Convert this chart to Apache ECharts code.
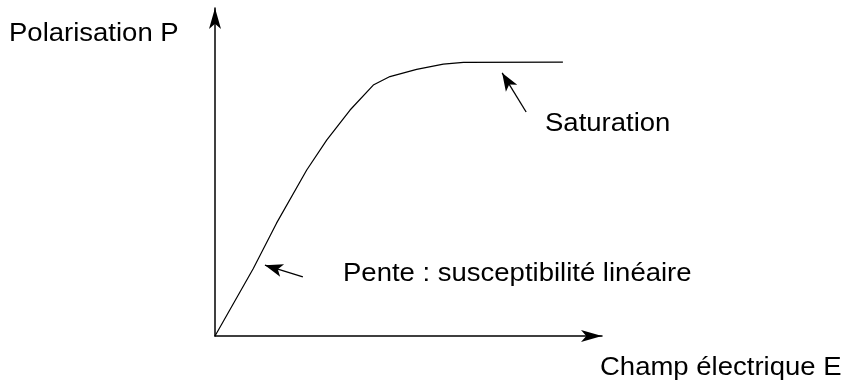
<!DOCTYPE html>
<html>
<head>
<meta charset="utf-8">
<script src="https://cdn.jsdelivr.net/npm/echarts@6/dist/echarts.min.js"></script>
<style>
  html, body { margin: 0; padding: 0; background: #fff; }
  #chart { width: 845px; height: 385px; }
</style>
</head>
<body>
<div id="chart"></div>
<script>
// champ E et polarisation P (unites arbitraires, 0..100)
var fieldE = [0, 9.9, 15.9, 23.7, 28.9, 34.9, 40.9, 45.2, 52.1, 59.0, 64.2, 89.9];
var polarP = [0, 20.6, 34.4, 50.6, 59.8, 68.9, 76.5, 79.1, 81.3, 82.9, 83.4, 83.5];

// fleches d'annotation : [queue, pointe]
var slopeArrow = [[22.7, 18.0], [12.9, 21.6]];
var satArrow = [[80.4, 68.3], [74.2, 80.2]];

var labels = {
    yName: 'Polarisation P',
    xName: 'Champ électrique E',
    slope: 'Pente : susceptibilité linéaire',
    sat: 'Saturation'
};

var myChart = echarts.init(document.getElementById('chart'));

var curve = [];
for (var i = 0; i < fieldE.length; i++) {
    curve.push([fieldE[i], polarP[i]]);
}

function arrowLine(a) {
    return [
        { coord: a[0], symbol: 'none' },
        { coord: a[1], symbol: 'arrow' }
    ];
}

function txt(s, x, y) {
    return {
        type: 'text',
        x: x,
        y: y,
        scaleX: 1.1,
        silent: true,
        style: {
            text: s,
            fontSize: 25,
            fontFamily: '"Liberation Sans", Arial, sans-serif',
            fill: '#000',
            verticalAlign: 'middle',
            textVerticalAlign: 'middle'
        }
    };
}

var axisCommon = {
    type: 'value',
    min: 0,
    max: 100,
    axisLine: {
        show: true,
        symbol: ['none', 'arrow'],
        symbolSize: [9, 21],
        lineStyle: { color: '#000', width: 1.5 }
    },
    axisTick: { show: false },
    axisLabel: { show: false },
    splitLine: { show: false }
};

var option = {
    animation: false,
    backgroundColor: '#fff',
    grid: { left: 215, right: 243, top: 8, bottom: 49 },
    xAxis: axisCommon,
    yAxis: axisCommon,
    graphic: [
        txt(labels.yName, 9, 34),
        txt(labels.xName, 600, 368),
        txt(labels.slope, 343, 274),
        txt(labels.sat, 545, 124)
    ],
    series: [
        {
            type: 'line',
            data: curve,
            symbol: 'none',
            lineStyle: { color: '#000', width: 1.2 },
            markLine: {
                silent: true,
                symbolSize: [10, 18],
                label: { show: false },
                lineStyle: { color: '#000', width: 1.3, type: 'solid' },
                emphasis: { disabled: true },
                data: [arrowLine(slopeArrow), arrowLine(satArrow)]
            }
        }
    ]
};
myChart.setOption(option);
</script>
</body>
</html>
